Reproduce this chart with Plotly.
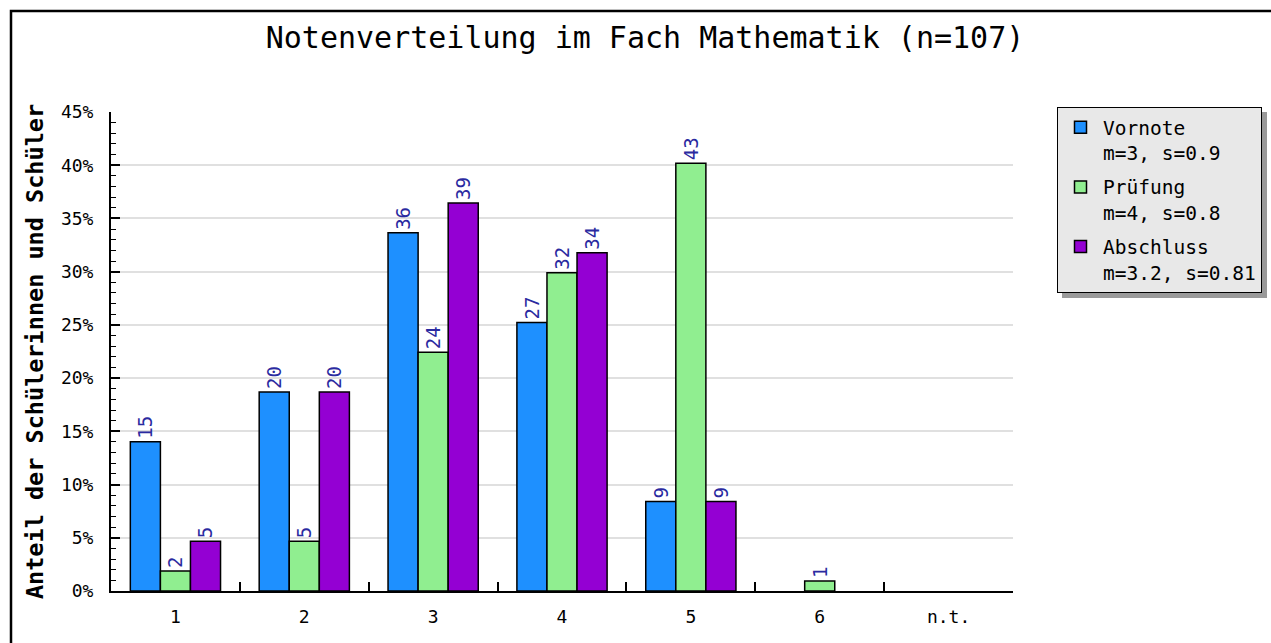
import plotly.graph_objects as go

N = 107
categories = ["1", "2", "3", "4", "5", "6", "n.t."]
vornote = [15, 20, 36, 27, 9, 0, 0]
pruefung = [2, 5, 24, 32, 43, 1, 0]
abschluss = [5, 20, 39, 34, 9, 0, 0]
series_names = ["Vornote<br>m=3, s=0.9", "Prüfung<br>m=4, s=0.8", "Abschluss<br>m=3.2, s=0.81"]
colors = ["#1e90ff", "#90ee90", "#9400d3"]
title = "Notenverteilung im Fach Mathematik (n=107)"
ytitle = "Anteil der Schülerinnen und Schüler"

MONO = "DejaVu Sans Mono, Liberation Mono, monospace"

# plot-area pixel geometry (for decoration placement)
L, R, T, B = 111, 1013, 112, 591
W, H = 1271, 643
def px(x):
    return (x - L) / (R - L)
def py(y):
    return (B - y) / (B - T)

fig = go.Figure()
for i, (name, counts, col) in enumerate(zip(series_names, [vornote, pruefung, abschluss], colors)):
    pct = [c / N * 100 if c > 0 else None for c in counts]
    fig.add_trace(go.Bar(
        x=categories, y=pct, name=name, legendgroup=f"g{i}",
        marker=dict(color=col, line=dict(color="black", width=1.5)),
        text=[str(c) if c > 0 else "" for c in counts],
        textposition="outside", textangle=-90,
        textfont=dict(family=MONO, size=19, color="#2a2aa0"),
        cliponaxis=False,
        hoverinfo="skip",
    ))

fig.update_layout(
    width=W, height=H,
    margin=dict(l=L, r=W - R, t=T, b=H - B, autoexpand=False),
    paper_bgcolor="white", plot_bgcolor="white",
    barmode="group", bargap=0.3, bargroupgap=0,
    font=dict(family=MONO, color="black", size=16),
    title=dict(text=title, x=645 / W, xanchor="center", y=1 - 37 / H, yanchor="middle",
               font=dict(family=MONO, size=30, color="black")),
    legend=dict(x=px(1057), y=py(107), xanchor="left", yanchor="top",
                bgcolor="#e8e8e8", bordercolor="black", borderwidth=1,
                font=dict(family=MONO, size=19.5, color="black"),
                valign="top", tracegroupgap=6, itemwidth=35),
    showlegend=True,
)
fig.update_xaxes(
    type="category", showline=True, linecolor="black", linewidth=2,
    ticks="inside", tickson="boundaries", ticklen=9, tickcolor="black", tickwidth=2,
    showgrid=False, ticklabelstandoff=8,
    tickfont=dict(family=MONO, size=18, color="black"),
)
fig.update_yaxes(
    range=[0, 45], dtick=5, ticksuffix="%", showline=True, linecolor="black", linewidth=2,
    ticks="inside", ticklen=9, tickcolor="black", tickwidth=1.5,
    minor=dict(dtick=1, ticks="inside", ticklen=5, tickcolor="black", tickwidth=1, showgrid=False),
    showgrid=True, gridcolor="#e0e0e0", gridwidth=1.5, zeroline=False,
    ticklabelstandoff=12,
    tickfont=dict(family=MONO, size=18, color="black"),
    title=dict(text=ytitle, standoff=11,
               font=dict(family="DejaVu Sans Mono", size=23.5, color="black", weight="bold")),
)

# outer frame and legend shadow
fig.add_shape(type="rect", xref="paper", yref="paper",
              x0=px(11), x1=px(W + 10), y0=py(H + 10), y1=py(11),
              line=dict(color="black", width=2.5), fillcolor="rgba(0,0,0,0)", layer="above")
fig.add_shape(type="rect", xref="paper", yref="paper",
              x0=px(1062), x1=px(1267), y0=py(298), y1=py(112),
              line=dict(width=0), fillcolor="#9a9a9a", layer="above")

fig.write_html("out.html", config={"displayModeBar": False},
               post_script="document.body.style.margin='0';document.body.style.padding='0';")
